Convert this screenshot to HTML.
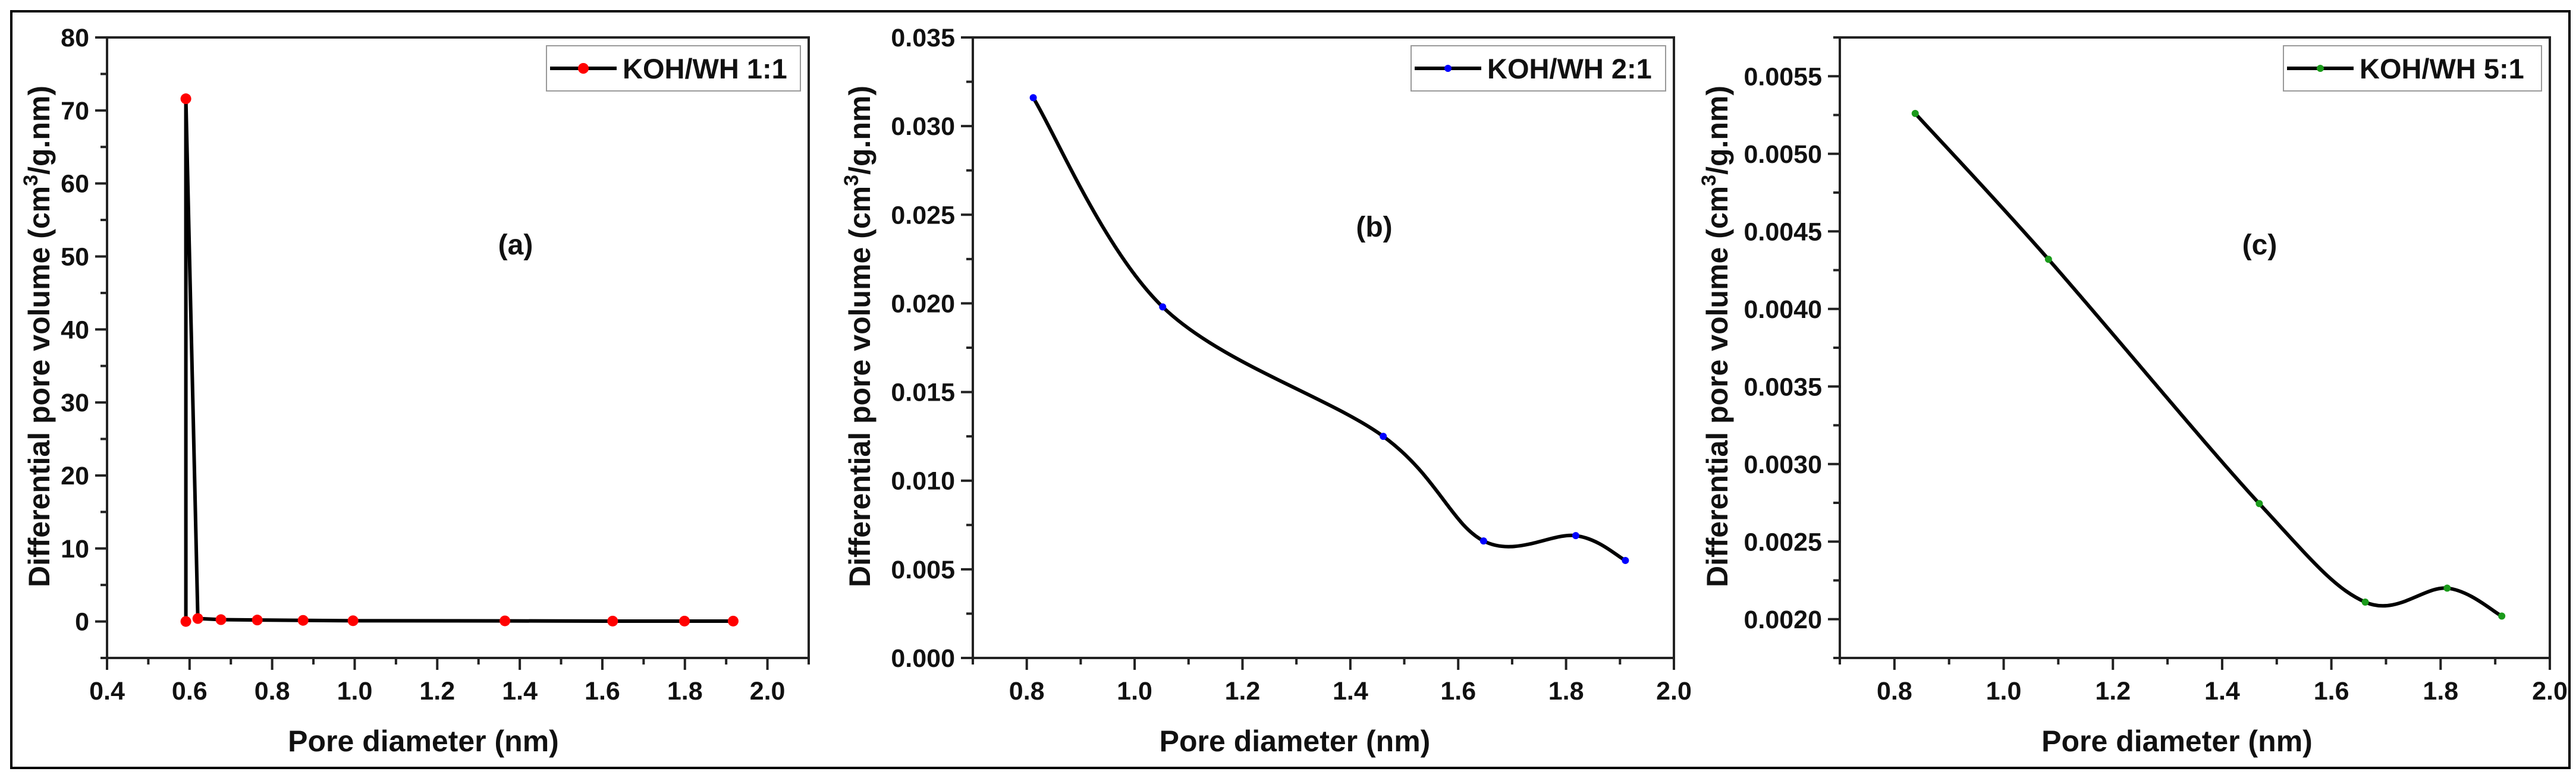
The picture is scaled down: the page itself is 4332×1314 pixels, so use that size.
<!DOCTYPE html>
<html><head><meta charset="utf-8"><style>
html,body{margin:0;padding:0;background:#fff}
svg{display:block;font-family:"Liberation Sans",Arial,sans-serif;font-weight:bold}
</style></head><body>
<svg id="fig" width="4332" height="1314" viewBox="0 0 4332 1314" xmlns="http://www.w3.org/2000/svg">
<rect x="19" y="19" width="4302" height="1273" fill="none" stroke="#000" stroke-width="4"/>
</svg>
<script>
// Panel (a) data
const xA = [0.591, 0.591, 0.620, 0.676, 0.764, 0.875, 0.996, 1.364, 1.625, 1.799, 1.917];
const yA = [0, 71.6, 0.4, 0.25, 0.2, 0.15, 0.1, 0.08, 0.05, 0.05, 0.05];
const xTicksA = [0.4, 0.6, 0.8, 1.0, 1.2, 1.4, 1.6, 1.8, 2.0];
const yTicksA = [0, 10, 20, 30, 40, 50, 60, 70, 80];
const yLabelsA = ["0", "10", "20", "30", "40", "50", "60", "70", "80"];
// Panel (b) data
const xB = [0.812, 1.052, 1.461, 1.647, 1.818, 1.910];
const yB = [0.0316, 0.0198, 0.0125, 0.0066, 0.0069, 0.0055];
const xTicksB = [0.8, 1.0, 1.2, 1.4, 1.6, 1.8, 2.0];
const yTicksB = [0, 0.005, 0.010, 0.015, 0.020, 0.025, 0.030, 0.035];
const yLabelsB = ["0.000", "0.005", "0.010", "0.015", "0.020", "0.025", "0.030", "0.035"];
// Panel (c) data
const xC = [0.838, 1.082, 1.468, 1.662, 1.812, 1.912];
const yC = [0.00526, 0.00432, 0.002745, 0.00211, 0.00220, 0.00202];
const xTicksC = [0.8, 1.0, 1.2, 1.4, 1.6, 1.8, 2.0];
const yTicksC = [0.0020, 0.0025, 0.0030, 0.0035, 0.0040, 0.0045, 0.0050, 0.0055];
const yLabelsC = ["0.0020", "0.0025", "0.0030", "0.0035", "0.0040", "0.0045", "0.0050", "0.0055"];

const NS = "http://www.w3.org/2000/svg";
const svg = document.getElementById("fig");
function mk(tag, attrs, parent) {
  const e = document.createElementNS(NS, tag);
  for (const k in attrs) e.setAttribute(k, attrs[k]);
  (parent || svg).appendChild(e);
  return e;
}
function catmull(pts) {
  let d = "M" + pts[0][0] + "," + pts[0][1];
  for (let i = 0; i < pts.length - 1; i++) {
    const p0 = pts[Math.max(0, i - 1)], p1 = pts[i], p2 = pts[i + 1], p3 = pts[Math.min(pts.length - 1, i + 2)];
    const c1x = p1[0] + (p2[0] - p0[0]) / 6, c1y = p1[1] + (p2[1] - p0[1]) / 6;
    const c2x = p2[0] - (p3[0] - p1[0]) / 6, c2y = p2[1] - (p3[1] - p1[1]) / 6;
    d += " C" + c1x + "," + c1y + " " + c2x + "," + c2y + " " + p2[0] + "," + p2[1];
  }
  return d;
}
function panel(cfg) {
  const g = mk("g", {});
  
  
  const L = cfg.left, R = cfg.right, T = 63, B = 1107;
  const sx = v => L + (v - cfg.xmin) / (cfg.xmax - cfg.xmin) * (R - L);
  const sy = v => B - (v - cfg.ymin) / (cfg.ymax - cfg.ymin) * (B - T);
  const frame = mk("rect", {x: L, y: T, width: R - L, height: B - T, fill: "none", stroke: "#222", "stroke-width": 4}, g);
  
  
  // x ticks
  const xstep = xTicksStep(cfg.xticks);
  for (let i = 0; i < cfg.xticks.length; i++) {
    const v = cfg.xticks[i], x = sx(v);
    const t = mk("line", {x1: x, y1: B, x2: x, y2: B + 20, stroke: "#222", "stroke-width": 4}, g);
    
    
    const lb = mk("text", {x: x, y: B + 70, "font-size": 43, "text-anchor": "middle", fill: "#111"}, g);
    lb.textContent = v.toFixed(1);
    
    
  }
  for (let v = cfg.xticks[0] - xstep / 2; v <= cfg.xmax + 1e-9; v += xstep) {
    if (v < cfg.xmin - 1e-9) continue;
    const x = sx(v);
    const t = mk("line", {x1: x, y1: B, x2: x, y2: B + 11, stroke: "#222", "stroke-width": 4}, g);
    
    
  }
  const ystep = cfg.yticks[1] - cfg.yticks[0];
  for (let i = 0; i < cfg.yticks.length; i++) {
    const v = cfg.yticks[i], y = sy(v);
    const t = mk("line", {x1: L - 20, y1: y, x2: L, y2: y, stroke: "#222", "stroke-width": 4}, g);
    
    
    const lb = mk("text", {x: L - 30, y: y + 15, "font-size": 43, "text-anchor": "end", fill: "#111"}, g);
    lb.textContent = cfg.ylabels[i];
    
    
  }
  for (let v = cfg.yticks[0] - ystep / 2; v <= cfg.ymax + 1e-12; v += ystep) {
    if (v < cfg.ymin - 1e-12) continue;
    const y = sy(v);
    const t = mk("line", {x1: L - 11, y1: y, x2: L, y2: y, stroke: "#222", "stroke-width": 4}, g);
    
    
  }
  // series
  const pts = cfg.xs.map((x, i) => [sx(x), sy(cfg.ys[i])]);
  let d;
  if (cfg.smooth) d = catmull(pts);
  else d = "M" + pts.map(p => p[0] + "," + p[1]).join(" L");
  const line = mk("path", {d: d, fill: "none", stroke: "#000", "stroke-width": 6, "stroke-linejoin": "round"}, g);
  
  
  pts.forEach(p => {
    const c = mk("circle", {cx: p[0], cy: p[1], r: cfg.r, fill: cfg.color}, g);
    
    
  });
  // legend
  const lg = mk("g", {}, g);
  
  
  const lx = cfg.legX, ly = 77;
  mk("rect", {x: lx, y: ly, width: cfg.legW, height: 76, fill: "#fff", stroke: "#999", "stroke-width": 2}, lg);
  mk("line", {x1: lx + 6, y1: ly + 38, x2: lx + 118, y2: ly + 38, stroke: "#000", "stroke-width": 6}, lg);
  mk("circle", {cx: lx + 62, cy: ly + 38, r: cfg.r, fill: cfg.color}, lg);
  const lt = mk("text", {x: lx + 128, y: ly + 55, "font-size": 47, fill: "#111"}, lg);
  lt.textContent = cfg.legend;
  
  
  // panel label
  const pl = mk("text", {x: cfg.plX, y: cfg.plY, "font-size": 48, "text-anchor": "middle", fill: "#111"}, g);
  pl.textContent = cfg.tag;
  
  
  // axis titles
  const xt = mk("text", {x: (L + R) / 2 + cfg.xtOff, y: 1264, "font-size": 50, "text-anchor": "middle", fill: "#111"}, g);
  xt.textContent = "Pore diameter (nm)";
  
  
  const yt = mk("text", {x: 0, y: 0, "font-size": 50, "text-anchor": "middle", fill: "#111", transform: "translate(" + cfg.ytX + ",566) rotate(-90)"}, g);
  
  
  const s1 = mk("tspan", {}, yt); s1.textContent = "Differential pore volume (cm";
  const s2 = mk("tspan", {dy: -20, "font-size": 34}, yt); s2.textContent = "3";
  const s3 = mk("tspan", {dy: 20}, yt); s3.textContent = "/g.nm)";
}
function xTicksStep(t) { return t[1] - t[0]; }

panel({name: "panel-a", left: 180, right: 1360, xmin: 0.4, xmax: 2.1, ymin: -5, ymax: 80,
  xticks: xTicksA, yticks: yTicksA, ylabels: yLabelsA, xs: xA, ys: yA, smooth: false,
  color: "#f00", r: 9, legX: 919, legW: 427, legend: "KOH/WH 1:1", tag: "(a)", plX: 867, plY: 428, ytX: 83, xtOff: -58});
panel({name: "panel-b", left: 1636, right: 2815, xmin: 0.7, xmax: 2.0, ymin: 0, ymax: 0.035,
  xticks: xTicksB, yticks: yTicksB, ylabels: yLabelsB, xs: xB, ys: yB, smooth: true,
  color: "#00f", r: 6, legX: 2373, legW: 428, legend: "KOH/WH 2:1", tag: "(b)", plX: 2311, plY: 398, ytX: 1463, xtOff: -48});
panel({name: "panel-c", left: 3094, right: 4288, xmin: 0.7, xmax: 2.0, ymin: 0.00175, ymax: 0.00575,
  xticks: xTicksC, yticks: yTicksC, ylabels: yLabelsC, xs: xC, ys: yC, smooth: true,
  color: "#1a9a1a", r: 6, legX: 3840, legW: 434, legend: "KOH/WH 5:1", tag: "(c)", plX: 3800, plY: 428, ytX: 2905, xtOff: -30});
</script>
</body></html>
